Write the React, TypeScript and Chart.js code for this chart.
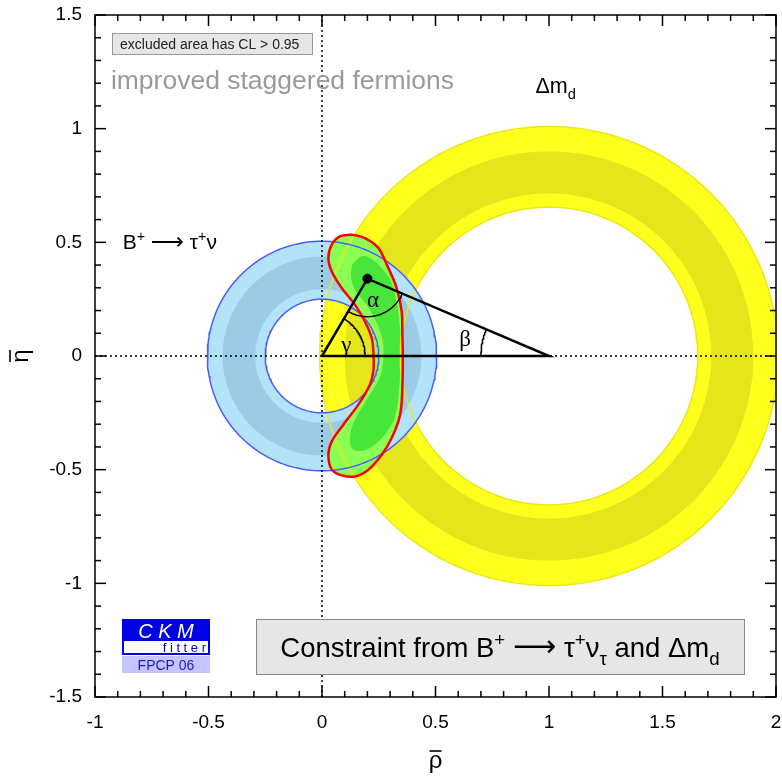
import React, { useEffect, useRef } from 'react';
import { Chart, registerables } from 'chart.js';

Chart.register(...registerables);

// ---------- data ----------
const xTickLabels = ['-1', '-0.5', '0', '0.5', '1', '1.5', '2'];
const yTickLabels = ['-1.5', '-1', '-0.5', '0', '0.5', '1', '1.5'];
const xRange = [-1, 2];
const yRange = [-1.5, 1.5];
const minorStep = 0.1;
const xTitle = 'ρ';
const yTitle = 'η';

// B+ -> tau nu : ring centred on the origin
const blueCenter = [0, 0];
const blueRadii = [0.25, 0.294, 0.438, 0.505]; // inner edge, dark inner, dark outer, outer edge

// Delta m_d : ring centred on (1, 0)
const yellowCenter = [1, 0];
const yellowRadii = [0.655, 0.715, 0.9, 1.01];

// combined constraint (CL = 0.95 contour, red)
const contourRho = [0.131, 0.079, 0.043, 0.028, 0.043, 0.087, 0.145, 0.189, 0.219, 0.227, 0.226, 0.211, 0.16, 0.094, 0.043, 0.028, 0.043, 0.087, 0.145, 0.204, 0.263, 0.307, 0.344, 0.354, 0.356, 0.354, 0.351, 0.329, 0.292, 0.248, 0.189, 0.131];
const contourEta = [0.534, 0.526, 0.49, 0.431, 0.372, 0.299, 0.226, 0.152, 0.079, 0.006, -0.068, -0.126, -0.214, -0.302, -0.376, -0.434, -0.5, -0.525, -0.53, -0.5, -0.434, -0.361, -0.258, -0.141, 0.006, 0.094, 0.196, 0.299, 0.387, 0.475, 0.519, 0.534];

// inner (darker green) region
const coreRho = [0.167, 0.131, 0.138, 0.211, 0.263, 0.27, 0.256, 0.197, 0.138, 0.123, 0.138, 0.197, 0.27, 0.322, 0.341, 0.344, 0.344, 0.329, 0.3, 0.241, 0.197, 0.167];
const coreEta = [0.438, 0.394, 0.306, 0.204, 0.086, -0.002, -0.09, -0.192, -0.295, -0.368, -0.412, -0.412, -0.354, -0.266, -0.134, -0.002, 0.116, 0.233, 0.336, 0.409, 0.438, 0.438];

// unitarity triangle
const apex = [0.2, 0.34];
const triangleRho = [0, 1, apex[0], 0];
const triangleEta = [0, 0, apex[1], 0];
const arcRadii = { alpha: 0.167, beta: 0.3, gamma: 0.19 };

// ---------- helpers ----------
type P = { x: number; y: number };
const N = 180;

function circle(c: number[], r: number, reverse = false): P[] {
  const pts: P[] = [];
  for (let i = 0; i <= N; i++) {
    const t = (reverse ? N - i : i) / N * Math.PI * 2;
    pts.push({ x: c[0] + r * Math.cos(t), y: c[1] + r * Math.sin(t) });
  }
  return pts;
}
function annulus(c: number[], rIn: number, rOut: number): P[] {
  return [...circle(c, rOut), ...circle(c, rIn, true)];
}
function arc(c: number[], r: number, a0: number, a1: number): P[] {
  const pts: P[] = [];
  const n = 40;
  for (let i = 0; i <= n; i++) {
    const t = a0 + (a1 - a0) * i / n;
    pts.push({ x: c[0] + r * Math.cos(t), y: c[1] + r * Math.sin(t) });
  }
  return pts;
}
const zip = (xs: number[], ys: number[]): P[] => xs.map((v, i) => ({ x: v, y: ys[i] }));

const FONT = '"Liberation Sans", Arial, Helvetica, "DejaVu Sans", sans-serif';
const ARROWFONT = '"DejaVu Sans", sans-serif';
const SERIF = '"Liberation Serif", "DejaVu Serif", serif';

type Part = { t: string; k?: 'sup' | 'sub' | 'arrow' };
function partFont(p: Part, size: number, font: string) {
  if (p.k === 'arrow') return `${size * 1.1}px ${ARROWFONT}`;
  return `${p.k ? size * 0.68 : size}px ${font}`;
}
function richWidth(ctx: CanvasRenderingContext2D, parts: Part[], size: number, font: string) {
  let w = 0;
  for (const p of parts) {
    ctx.font = partFont(p, size, font);
    w += ctx.measureText(p.t).width;
  }
  return w;
}
function drawRich(ctx: CanvasRenderingContext2D, parts: Part[], x: number, y: number, size: number, font: string) {
  let cx = x;
  for (const p of parts) {
    ctx.font = partFont(p, size, font);
    const dy = p.k === 'sup' ? -size * 0.4 : p.k === 'sub' ? size * 0.28 : p.k === 'arrow' ? -size * 0.02 : 0;
    ctx.fillText(p.t, cx, y + dy);
    cx += ctx.measureText(p.t).width;
  }
}

const overlay = {
  id: 'overlay',
  afterDatasetsDraw(chart: any) {
    const { ctx, chartArea: a } = chart;
    const xs = chart.scales.x;
    const ys = chart.scales.y;
    const px = (v: number) => xs.getPixelForValue(v);
    const py = (v: number) => ys.getPixelForValue(v);
    ctx.save();
    ctx.strokeStyle = '#000';
    ctx.lineWidth = 1.5;
    const seg = (x1: number, y1: number, x2: number, y2: number) => {
      ctx.beginPath(); ctx.moveTo(x1, y1); ctx.lineTo(x2, y2); ctx.stroke();
    };
    // ticks on all four sides, pointing inward
    const xMajor = xTickLabels.map(Number);
    const yMajor = yTickLabels.map(Number);
    const isMajor = (arr: number[], v: number) => arr.some((m) => Math.abs(m - v) < 1e-6);
    for (let i = Math.round(xRange[0] / minorStep); i <= Math.round(xRange[1] / minorStep); i++) {
      const v = i * minorStep;
      const L = isMajor(xMajor, v) ? 11 : 6;
      const X = px(v);
      seg(X, a.bottom, X, a.bottom - L);
      seg(X, a.top, X, a.top + L);
    }
    for (let i = Math.round(yRange[0] / minorStep); i <= Math.round(yRange[1] / minorStep); i++) {
      const v = i * minorStep;
      const L = isMajor(yMajor, v) ? 11 : 6;
      const Y = py(v);
      seg(a.left, Y, a.left + L, Y);
      seg(a.right, Y, a.right - L, Y);
    }
    ctx.strokeRect(a.left, a.top, a.right - a.left, a.bottom - a.top);

    // axis titles (with bar)
    ctx.fillStyle = '#000';
    ctx.font = `24px ${FONT}`;
    ctx.textAlign = 'center';
    ctx.textBaseline = 'alphabetic';
    const cxT = (a.left + a.right) / 2;
    ctx.fillText(xTitle, cxT, 768);
    ctx.lineWidth = 1.6;
    seg(cxT - 6, 751, cxT + 6, 751);
    ctx.save();
    ctx.translate(28, (a.top + a.bottom) / 2);
    ctx.rotate(-Math.PI / 2);
    ctx.fillText(yTitle, 0, 0);
    seg(-6, -18, 6, -18);
    ctx.restore();

    // Greek angle labels
    ctx.fillStyle = '#000';
    ctx.textAlign = 'center';
    ctx.textBaseline = 'middle';
    ctx.font = `23px ${SERIF}`;
    ctx.fillText('α', px(0.225), py(0.24));
    ctx.fillText('γ', px(0.107), py(0.045));
    ctx.fillText('β', px(0.63), py(0.07));

    ctx.textAlign = 'left';
    ctx.textBaseline = 'alphabetic';
    // excluded area box
    const bx = a.left + 17, by = a.top + 18;
    ctx.fillStyle = '#e6e6e6';
    ctx.fillRect(bx, by, 200, 21);
    ctx.strokeStyle = '#999';
    ctx.lineWidth = 1;
    ctx.strokeRect(bx + 0.5, by + 0.5, 200, 21);
    ctx.fillStyle = '#222';
    ctx.font = `14px ${FONT}`;
    ctx.fillText('excluded area has CL > 0.95', bx + 8, by + 15.5);

    // method label
    ctx.fillStyle = '#9a9a9a';
    ctx.font = `26.5px ${FONT}`;
    ctx.fillText('improved staggered fermions', px(-0.93), py(1.176));

    // constraint labels
    ctx.fillStyle = '#000';
    drawRich(ctx, [{ t: 'Δm' }, { t: 'd', k: 'sub' }], px(0.94), py(1.155), 21.5, FONT);
    drawRich(ctx, [{ t: 'B' }, { t: '+', k: 'sup' }, { t: ' ' }, { t: '⟶', k: 'arrow' }, { t: ' τ' }, { t: '+', k: 'sup' }, { t: 'ν' }], px(-0.878), py(0.47), 21, FONT);

    // bottom box
    const x0 = 256, y0 = 619, w = 488, h = 55;
    ctx.fillStyle = '#e6e6e6';
    ctx.fillRect(x0, y0, w, h);
    ctx.strokeStyle = '#888';
    ctx.lineWidth = 1;
    ctx.strokeRect(x0 + 0.5, y0 + 0.5, w, h);
    const parts: Part[] = [{ t: 'Constraint from B' }, { t: '+', k: 'sup' }, { t: ' ' }, { t: '⟶', k: 'arrow' }, { t: ' τ' }, { t: '+', k: 'sup' }, { t: 'ν' }, { t: 'τ', k: 'sub' }, { t: ' and Δm' }, { t: 'd', k: 'sub' }];
    const tw = richWidth(ctx, parts, 27.5, FONT);
    ctx.fillStyle = '#000';
    drawRich(ctx, parts, x0 + (w - tw) / 2, y0 + 38, 27.5, FONT);

    // CKMfitter logo
    const lx = 122, ly = 619, lw = 88;
    ctx.fillStyle = '#0000e6';
    ctx.fillRect(lx, ly, lw, 22);
    ctx.fillStyle = '#fff';
    ctx.font = `italic 20px ${FONT}`;
    ctx.textAlign = 'center';
    ctx.fillText('C K M', lx + lw / 2, ly + 19);
    ctx.fillStyle = '#fff';
    ctx.fillRect(lx, ly + 22, lw, 13);
    ctx.strokeStyle = '#0000e6';
    ctx.lineWidth = 2;
    ctx.beginPath();
    ctx.moveTo(lx + 1, ly + 22); ctx.lineTo(lx + 1, ly + 35); ctx.lineTo(lx + lw - 1, ly + 35); ctx.lineTo(lx + lw - 1, ly + 22);
    ctx.stroke();
    ctx.fillStyle = '#0000e6';
    ctx.font = `13px ${FONT}`;
    ctx.textAlign = 'right';
    ctx.fillText('f i t t e r', lx + lw - 4, ly + 33);
    ctx.fillStyle = '#c4c4ff';
    ctx.fillRect(lx, ly + 37, lw, 17);
    ctx.fillStyle = '#1a1acc';
    ctx.font = `14px ${FONT}`;
    ctx.textAlign = 'center';
    ctx.fillText('FPCP 06', lx + lw / 2, ly + 51);
    ctx.restore();
  },
};

export default function App() {
  const ref = useRef<HTMLCanvasElement | null>(null);
  useEffect(() => {
    if (!ref.current) return;
    const base = { pointRadius: 0, borderWidth: 0, tension: 0, showLine: true };
    const ringFill = (data: P[], color: string, order: number) => ({ ...base, data, fill: 'shape', backgroundColor: color, borderColor: 'rgba(0,0,0,0)', order });
    const outline = (data: P[], color: string, width: number, order: number, extra: any = {}) => ({ ...base, data, fill: false, borderColor: color, borderWidth: width, order, ...extra });

    const aG = Math.atan2(apex[1], apex[0]);
    const aB = Math.atan2(apex[1], apex[0] - 1);
    const toO = Math.atan2(-apex[1], -apex[0]);
    const toOne = Math.atan2(-apex[1], 1 - apex[0]);

    const datasets: any[] = [
      ringFill(annulus(yellowCenter, yellowRadii[0], yellowRadii[3]), '#ffff1e', 100),
      ringFill(annulus(yellowCenter, yellowRadii[1], yellowRadii[2]), '#e5e51c', 99),
      ringFill(annulus(blueCenter, blueRadii[0], blueRadii[3]), '#b3e3fa', 98),
      ringFill(annulus(blueCenter, blueRadii[1], blueRadii[2]), '#9ccbe5', 97),
      { ...base, data: zip(contourRho, contourEta), fill: 'shape', backgroundColor: '#8cff55', borderColor: 'rgba(0,0,0,0)', tension: 0.35, order: 96 },
      { ...base, data: zip(coreRho, coreEta), fill: 'shape', backgroundColor: '#48e63a', borderColor: 'rgba(0,0,0,0)', tension: 0.35, order: 95 },
      outline(circle(yellowCenter, yellowRadii[3]), '#e8e81a', 1.5, 94),
      outline(circle(yellowCenter, yellowRadii[0]), '#e8e81a', 1.5, 93),
      outline(circle(blueCenter, blueRadii[3]), '#4a5cff', 1.5, 92),
      outline(circle(blueCenter, blueRadii[0]), '#4a5cff', 1.5, 91),
      outline(zip(contourRho, contourEta), '#ff0000', 2.5, 90, { tension: 0.35 }),
      outline([{ x: xRange[0], y: 0 }, { x: xRange[1], y: 0 }], '#000', 1.5, 89, { borderDash: [2, 3] }),
      outline([{ x: 0, y: yRange[0] }, { x: 0, y: yRange[1] }], '#000', 1.5, 88, { borderDash: [2, 3] }),
      outline(zip(triangleRho, triangleEta), '#000', 2.5, 87),
      outline(arc([0, 0], arcRadii.gamma, 0, aG), '#000', 1.5, 86),
      outline(arc([1, 0], arcRadii.beta, Math.PI, aB), '#000', 1.5, 85),
      outline(arc(apex, arcRadii.alpha, toO, toOne), '#000', 1.5, 84),
      { data: [{ x: apex[0], y: apex[1] }], showLine: false, pointRadius: 4.5, pointBackgroundColor: '#000', pointBorderColor: '#000', order: 1 },
    ];

    const chart = new Chart(ref.current, {
      type: 'line',
      data: { datasets },
      options: {
        animation: false,
        responsive: false,
        events: [],
        layout: { autoPadding: false, padding: { left: 0, top: 15, right: 6, bottom: 0 } },
        plugins: { legend: { display: false }, tooltip: { enabled: false } },
        scales: {
          x: {
            type: 'linear', min: xRange[0], max: xRange[1],
            grid: { display: false, drawTicks: false },
            border: { display: false },
            ticks: {
              stepSize: 0.5, autoSkip: false, maxRotation: 0, padding: 14, color: '#000',
              font: { family: FONT, size: 19 },
              callback: (v: any) => xTickLabels.find((l) => Math.abs(Number(l) - Number(v)) < 1e-6) ?? '',
            },
            afterFit: (s: any) => { s.height = 81; s.paddingLeft = 0; s.paddingRight = 0; },
          },
          y: {
            type: 'linear', min: yRange[0], max: yRange[1],
            grid: { display: false, drawTicks: false },
            border: { display: false },
            ticks: {
              stepSize: 0.5, autoSkip: false, padding: 13, color: '#000',
              font: { family: FONT, size: 19 },
              callback: (v: any) => yTickLabels.find((l) => Math.abs(Number(l) - Number(v)) < 1e-6) ?? '',
            },
            afterFit: (s: any) => { s.width = 95; s.paddingTop = 0; s.paddingBottom = 0; },
          },
        },
      },
      plugins: [overlay],
    } as any);
    return () => chart.destroy();
  }, []);
  return (
    <div style={{ position: 'fixed', left: 0, top: 0, width: 782, height: 778, background: '#fff' }}>
      <canvas ref={ref} width={782} height={778} style={{ display: 'block' }} />
    </div>
  );
}
